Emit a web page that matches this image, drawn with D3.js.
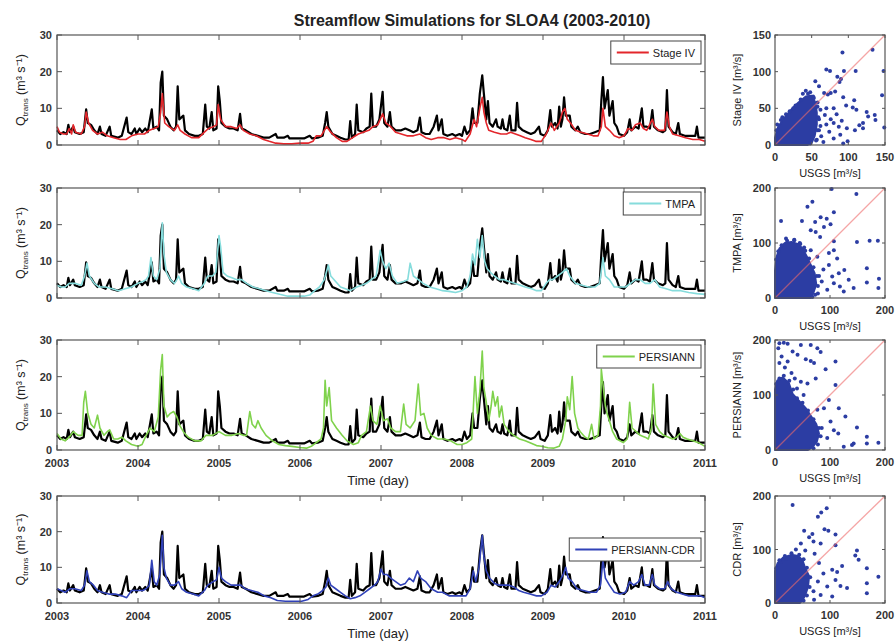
<!DOCTYPE html>
<html>
<head>
<meta charset="utf-8">
<script src="https://cdn.jsdelivr.net/npm/d3@7"></script>
<style>
body { margin: 0; background: #fff; }
svg { font-family: "Liberation Sans", Arial, sans-serif; }
</style>
</head>
<body>
<div class="container"></div>
<script>
// ---- DATA ----------------------------------------------------------------
var years = [2003, 2004, 2005, 2006, 2007, 2008, 2009, 2010, 2011]
var qTicks = [0, 10, 20, 30]

// USGS observed streamflow [year, m3/s] (black line, every panel)
var usgsObs = [
[2003.00,4],[2003.04,3],[2003.08,3.5],[2003.12,3],[2003.14,5.5],[2003.16,3.5],[2003.20,5],[2003.22,3.5],
[2003.28,3],[2003.33,3.5],[2003.36,9.7],[2003.38,6],[2003.42,5.5],[2003.46,4],[2003.50,3],[2003.53,5],
[2003.55,3],[2003.60,2.5],[2003.65,5],[2003.67,2.5],[2003.75,2],[2003.80,2.5],[2003.86,7.5],[2003.88,3.5],
[2003.92,3],[2003.96,4.5],[2003.98,3],[2004.02,4.5],[2004.05,3.5],[2004.09,4.5],[2004.12,3.5],[2004.17,9.7],
[2004.19,4.5],[2004.23,5],[2004.26,4],[2004.28,17],[2004.30,20],[2004.32,8],[2004.36,7],[2004.40,5],
[2004.44,4],[2004.47,5],[2004.49,16],[2004.51,7],[2004.56,8],[2004.58,4],[2004.63,3],[2004.70,2.5],
[2004.75,2.5],[2004.80,3],[2004.83,11],[2004.85,5],[2004.88,4.5],[2004.91,9],[2004.93,4],[2004.97,4.5],
[2004.99,16],[2005.01,12],[2005.03,6],[2005.08,5],[2005.13,4.5],[2005.18,4.5],[2005.23,4],[2005.26,8.5],
[2005.28,4.5],[2005.33,4],[2005.40,3],[2005.48,2.5],[2005.55,2],[2005.62,2],[2005.70,3],[2005.72,2],
[2005.80,2],[2005.85,2.5],[2005.87,1.8],[2005.95,1.8],[2006.05,1.8],[2006.12,2.5],[2006.15,1.8],[2006.22,2],
[2006.28,2.5],[2006.31,6],[2006.33,9],[2006.35,5],[2006.40,3],[2006.45,2.5],[2006.50,2],[2006.56,1.5],
[2006.60,1.5],[2006.62,6.5],[2006.64,2],[2006.68,3],[2006.70,11],[2006.72,4],[2006.78,3.5],[2006.82,4.5],
[2006.86,5],[2006.88,14],[2006.90,5],[2006.94,5],[2006.98,7],[2007.02,14.5],[2007.04,6],[2007.08,5],
[2007.11,9],[2007.13,5],[2007.18,4],[2007.25,4],[2007.30,4.5],[2007.35,4],[2007.40,3.5],[2007.45,4],
[2007.48,7.5],[2007.50,3.5],[2007.55,3],[2007.60,3],[2007.65,5],[2007.69,8],[2007.71,4],[2007.75,7],
[2007.77,3],[2007.82,2.5],[2007.88,3],[2007.92,2.5],[2007.97,3],[2008.00,2.5],[2008.03,5],[2008.06,3],
[2008.10,4],[2008.13,10],[2008.15,6],[2008.19,6],[2008.22,14],[2008.25,19],[2008.27,14],[2008.30,7],
[2008.32,12],[2008.34,6],[2008.38,5],[2008.42,7],[2008.44,5],[2008.48,4.5],[2008.50,7],[2008.52,4.5],
[2008.56,4],[2008.59,8],[2008.61,4],[2008.66,4],[2008.68,11.5],[2008.70,5],[2008.75,4],[2008.80,3.5],
[2008.85,3],[2008.90,3.5],[2008.95,5],[2008.97,3],[2009.02,2.5],[2009.06,4],[2009.09,9.5],[2009.11,5],
[2009.15,6],[2009.18,4.5],[2009.20,10.5],[2009.22,5],[2009.24,7],[2009.26,13],[2009.28,8],[2009.33,8],
[2009.35,5],[2009.40,4],[2009.43,5],[2009.46,3.5],[2009.52,3],[2009.58,3],[2009.64,3.5],[2009.70,4],
[2009.72,12],[2009.74,18.5],[2009.76,10],[2009.80,15],[2009.82,8],[2009.86,12],[2009.88,6],[2009.91,5],
[2009.94,3],[2010.00,2.5],[2010.04,3.5],[2010.07,7],[2010.09,4],[2010.14,5],[2010.18,4.5],[2010.22,10],
[2010.24,5],[2010.28,5],[2010.32,4.5],[2010.35,9.5],[2010.37,5],[2010.42,4],[2010.48,3.5],[2010.51,4],
[2010.53,15],[2010.55,5],[2010.60,3.5],[2010.64,3],[2010.67,6],[2010.69,3],[2010.75,2.5],[2010.82,2.5],
[2010.88,2.5],[2010.90,5],[2010.92,2],[2011.00,2]
]

var stage4Sim = [
[2003.00,5],[2003.03,3.5],[2003.08,3],[2003.12,3],[2003.15,4.5],[2003.18,3],[2003.20,5.5],[2003.23,3.5],
[2003.30,3],[2003.34,5],[2003.36,9],[2003.39,6],[2003.44,4],[2003.50,3],[2003.56,3.5],[2003.62,2.5],
[2003.70,2],[2003.78,1.5],[2003.85,1.5],[2003.92,2.5],[2004.00,3],[2004.08,3],[2004.14,4],[2004.20,4.5],
[2004.25,5],[2004.28,9],[2004.30,14],[2004.33,6],[2004.38,5],[2004.45,4],[2004.49,5.5],[2004.52,4],
[2004.58,3],[2004.66,2],[2004.75,2],[2004.82,3.5],[2004.87,4.5],[2004.93,5],[2004.97,5.5],[2004.99,11],
[2005.02,7],[2005.08,5],[2005.15,5],[2005.22,4.5],[2005.26,5.5],[2005.30,4],[2005.38,3],[2005.46,2.5],
[2005.55,1.5],[2005.62,1],[2005.70,0.5],[2005.80,0.3],[2005.90,0.3],[2006.00,0.5],[2006.10,0.5],[2006.16,1],
[2006.20,2.5],[2006.26,2.5],[2006.33,5],[2006.38,3.5],[2006.45,2],[2006.52,1],[2006.58,1],[2006.65,2],
[2006.72,3],[2006.78,3.5],[2006.85,4],[2006.90,5],[2006.96,5.5],[2007.02,8.5],[2007.06,6],[2007.12,5],
[2007.18,3.5],[2007.25,3],[2007.32,2.5],[2007.40,2.5],[2007.48,3],[2007.55,2],[2007.62,1.5],[2007.70,2],
[2007.78,2],[2007.85,1.5],[2007.92,2],[2008.00,1.5],[2008.04,1],[2008.10,3],[2008.15,7],[2008.18,5],
[2008.22,10],[2008.25,13],[2008.27,9],[2008.30,6],[2008.33,4],[2008.40,3.5],[2008.48,3],[2008.55,3],
[2008.60,3.5],[2008.66,3],[2008.72,2.5],[2008.78,2],[2008.85,1.5],[2008.91,1],[2008.98,1],[2009.04,3],
[2009.10,6],[2009.14,4],[2009.20,6],[2009.24,9],[2009.27,10],[2009.30,7],[2009.34,6],[2009.40,4],
[2009.47,3.5],[2009.55,3],[2009.62,2.5],[2009.68,2.5],[2009.72,5],[2009.74,10],[2009.77,5],[2009.82,4],
[2009.88,2.5],[2009.94,2],[2010.00,2.5],[2010.05,4.5],[2010.10,4],[2010.14,5.5],[2010.20,6],[2010.24,4.5],
[2010.28,4],[2010.35,7],[2010.38,5],[2010.43,4],[2010.50,4],[2010.53,9],[2010.56,5],[2010.60,3],
[2010.68,2.5],[2010.76,2],[2010.85,1.5],[2010.93,1.5],[2011.00,1]
]

var tmpaSim = [
[2003.00,3.5],[2003.05,3],[2003.10,3],[2003.15,4],[2003.22,4],[2003.30,3.5],[2003.34,6],[2003.37,9.5],
[2003.40,6],[2003.46,4],[2003.52,3],[2003.60,3],[2003.68,2.5],[2003.76,2],[2003.84,2.5],[2003.92,3],
[2004.00,4],[2004.06,4.5],[2004.10,5],[2004.13,6],[2004.16,11],[2004.19,6],[2004.23,5],[2004.27,8],
[2004.30,20.5],[2004.32,12],[2004.35,7],[2004.40,5],[2004.45,4],[2004.48,5],[2004.50,6],[2004.54,4],
[2004.60,3],[2004.68,2.5],[2004.75,2],[2004.82,4],[2004.86,6],[2004.92,6],[2004.96,7],[2005.00,17],
[2005.02,14],[2005.05,7],[2005.10,6],[2005.16,5.5],[2005.22,5],[2005.28,5],[2005.34,4],[2005.42,3],
[2005.50,2.5],[2005.58,2],[2005.66,1.5],[2005.75,1],[2005.85,0.5],[2005.95,0.5],[2006.05,0.5],[2006.12,0.8],
[2006.18,2],[2006.24,3],[2006.30,5],[2006.35,9],[2006.38,6],[2006.44,4.5],[2006.50,3],[2006.56,2.5],
[2006.62,2],[2006.70,3],[2006.76,3.5],[2006.82,4],[2006.88,5],[2006.94,6],[2006.99,13],[2007.02,10],
[2007.06,8],[2007.10,9.5],[2007.14,6],[2007.20,4],[2007.28,4.5],[2007.33,5],[2007.36,9.5],[2007.40,6],
[2007.46,5],[2007.52,4],[2007.60,3],[2007.68,2.5],[2007.76,2],[2007.84,1.8],[2007.92,1.5],[2008.00,2],
[2008.06,3],[2008.10,6],[2008.13,12],[2008.16,9],[2008.19,16],[2008.22,11],[2008.25,17],[2008.28,10],
[2008.31,8],[2008.35,7],[2008.40,6],[2008.46,5],[2008.52,5],[2008.58,4.5],[2008.65,4],[2008.72,3.5],
[2008.78,3],[2008.86,2.5],[2008.92,2],[2008.98,2],[2009.04,4],[2009.08,5],[2009.12,5],[2009.18,6],
[2009.24,7],[2009.29,8],[2009.33,6],[2009.40,4],[2009.48,3.5],[2009.56,3],[2009.64,3],[2009.70,4],
[2009.74,11],[2009.77,6],[2009.82,5],[2009.88,3],[2009.95,3],[2010.02,3],[2010.08,4],[2010.14,5],
[2010.20,5],[2010.26,4],[2010.32,4],[2010.38,5],[2010.44,3],[2010.52,2.5],[2010.60,2],[2010.70,2],
[2010.80,1.5],[2010.90,1.2],[2011.00,1]
]

var persiannSim = [
[2003.00,4.5],[2003.05,3],[2003.10,2.5],[2003.15,3.5],[2003.20,5],[2003.26,4],[2003.31,4],[2003.33,13],
[2003.35,16],[2003.38,10],[2003.42,7],[2003.46,6],[2003.50,9.5],[2003.53,6],[2003.58,4],[2003.62,5],
[2003.65,5.5],[2003.70,3],[2003.75,3],[2003.80,3.5],[2003.85,2.5],[2003.92,1.5],[2004.00,1],[2004.05,1.5],
[2004.10,4],[2004.15,6],[2004.20,5],[2004.25,9],[2004.28,22],[2004.30,26],[2004.32,12],[2004.36,9],
[2004.40,10],[2004.44,10.5],[2004.48,9],[2004.52,6.5],[2004.56,5],[2004.62,3.5],[2004.70,2.5],[2004.78,2.5],
[2004.84,4],[2004.92,4],[2005.00,5],[2005.08,4],[2005.16,4],[2005.24,4.5],[2005.30,4],[2005.34,4],
[2005.38,10.5],[2005.41,7],[2005.45,6],[2005.48,8],[2005.52,6],[2005.58,4],[2005.66,2.5],[2005.74,1.5],
[2005.82,1.2],[2005.90,1],[2006.00,0.7],[2006.08,0.5],[2006.14,1],[2006.20,2],[2006.26,3],[2006.29,6],
[2006.31,19],[2006.33,12],[2006.36,17],[2006.39,8],[2006.45,6],[2006.52,4],[2006.58,2.5],[2006.66,1.5],
[2006.72,2],[2006.76,4],[2006.82,5],[2006.87,12],[2006.90,8],[2006.95,7],[2006.99,12],[2007.03,8],
[2007.08,8.5],[2007.12,6],[2007.18,5],[2007.24,5],[2007.28,12.5],[2007.31,7],[2007.36,6],[2007.42,8],
[2007.46,18],[2007.49,9.5],[2007.53,10],[2007.57,6],[2007.62,4],[2007.70,3],[2007.78,3],[2007.86,2.5],
[2007.94,1.5],[2008.00,1.5],[2008.06,2],[2008.12,3],[2008.16,20],[2008.19,10],[2008.22,16],[2008.25,27],
[2008.27,17],[2008.30,13],[2008.33,8],[2008.36,12],[2008.38,16],[2008.41,12],[2008.44,14.5],[2008.46,9],
[2008.49,12],[2008.52,7],[2008.58,5],[2008.64,4],[2008.71,3],[2008.78,2.5],[2008.84,2],[2008.92,1.2],
[2008.98,1],[2009.06,0.6],[2009.13,0.5],[2009.20,1],[2009.24,3],[2009.28,8],[2009.30,14.5],[2009.33,11],
[2009.36,20],[2009.39,10],[2009.43,6],[2009.46,5],[2009.52,3.5],[2009.56,3],[2009.60,7],[2009.63,3],
[2009.68,4],[2009.71,12],[2009.72,22],[2009.74,18],[2009.77,12],[2009.79,10],[2009.82,8],[2009.86,5],
[2009.91,3],[2009.99,2],[2010.04,3],[2010.07,13],[2010.10,6],[2010.15,5],[2010.20,4],[2010.26,3.5],
[2010.30,3],[2010.34,6],[2010.36,18],[2010.39,7],[2010.44,5],[2010.49,4],[2010.55,3.5],[2010.60,3],
[2010.65,3.5],[2010.69,4.5],[2010.73,3.5],[2010.78,3],[2010.85,2.5],[2010.92,2],[2011.00,1]
]

var cdrSim = [
[2003.00,4],[2003.05,3.5],[2003.10,3],[2003.16,4],[2003.22,4],[2003.30,3.5],[2003.34,5],[2003.37,9],
[2003.40,6],[2003.45,5],[2003.50,3.5],[2003.56,3],[2003.64,2.5],[2003.72,2.5],[2003.80,2],[2003.86,1.5],
[2003.92,3.5],[2004.00,3.5],[2004.06,3.5],[2004.10,4],[2004.14,5],[2004.17,12],[2004.20,6],[2004.23,5],
[2004.27,8],[2004.30,19],[2004.32,10],[2004.35,7],[2004.40,5],[2004.45,5],[2004.50,6],[2004.54,4],
[2004.60,3],[2004.68,2.5],[2004.75,2],[2004.82,3.5],[2004.86,5],[2004.93,6],[2004.97,6.5],[2005.00,10],
[2005.03,7],[2005.08,6],[2005.15,5],[2005.22,5],[2005.27,5],[2005.32,4],[2005.40,3.5],[2005.48,3],
[2005.56,2],[2005.64,1.5],[2005.72,0.7],[2005.82,0.5],[2005.92,0.5],[2006.02,0.5],[2006.10,1],[2006.16,2],
[2006.22,2.5],[2006.28,3.5],[2006.32,4.5],[2006.35,7],[2006.38,5],[2006.44,4],[2006.50,3],[2006.56,2],
[2006.62,1.2],[2006.68,1.5],[2006.74,2],[2006.80,3],[2006.86,4],[2006.92,5],[2006.96,6],[2007.00,9.5],
[2007.03,8],[2007.07,8],[2007.12,7],[2007.18,6],[2007.24,5],[2007.30,5.5],[2007.35,7],[2007.40,6],
[2007.45,9],[2007.49,7],[2007.55,6],[2007.62,4],[2007.70,3],[2007.76,3],[2007.84,2],[2007.92,2],
[2008.00,2],[2008.05,2],[2008.10,4],[2008.14,9],[2008.17,6],[2008.21,10],[2008.25,19],[2008.27,13],
[2008.30,9],[2008.34,7],[2008.40,5.5],[2008.46,5],[2008.52,5],[2008.58,5],[2008.64,4.5],[2008.70,3.5],
[2008.76,3],[2008.84,2.5],[2008.92,2],[2008.98,2],[2009.05,3],[2009.10,5],[2009.15,4.5],[2009.20,6],
[2009.25,8],[2009.28,10],[2009.31,7],[2009.36,6],[2009.42,4],[2009.50,3.5],[2009.58,3],[2009.66,3],
[2009.71,5],[2009.74,12],[2009.77,7],[2009.82,5],[2009.88,3],[2009.95,2.5],[2010.02,3],[2010.07,6],
[2010.12,5],[2010.18,6],[2010.22,8],[2010.26,5],[2010.31,5],[2010.35,8],[2010.38,5],[2010.44,4],
[2010.50,4],[2010.54,6],[2010.58,4],[2010.65,3],[2010.72,2.5],[2010.80,2],[2010.88,2],[2010.94,2],
[2011.00,1.5]
]

// scatter: [USGS, simulated] in m3/s, points outside / on the rim of the dense core
var stage4Pts = [[92,126],[133,130],[70,103],[75,101],[94,101],[110,101],[148,101],[85,93],[90,90],[88,86],
[55,87],[60,80],[67,71],[72,69],[76,71],[82,73],[93,65],[146,68],[108,61],[106,51],[111,48],[97,54],[125,45],
[127,39],[136,41],[137,34],[149,24],[120,30],[115,27],[80,50],[84,42],[70,50],[68,41],[76,35],[80,30],[87,25],
[91,33],[98,23],[62,26],[60,20],[74,18],[80,9],[51,11],[57,7],[89,14],[109,20],[120,23],[99,5],[93,2],
[48,72],[52,66],[58,58],[62,48],[60,35],[63,12],[66,4],[70,28],[42,74],[38,70],
[3,28],[8,34],[15,42],[20,46],[28,54],[35,62],[45,70],[53,64],[58,52],[59,38],[58,20],[56,6],[48,2],[25,50],[10,38],[2,20]]
// dense core outline of the same cloud
var stage4Core = [[0,0],[0,10],[4,24],[12,36],[22,48],[32,58],[42,66],[50,67],[55,58],[57,44],[57,28],[54,12],[50,3],[44,0]]

var tmpaPts = [[103,198],[148,189],[59,166],[68,175],[11,140],[49,140],[73,138],[107,156],[83,147],[94,144],
[101,134],[89,129],[74,120],[82,111],[65,123],[149,102],[172,104],[187,104],[107,103],[98,82],[107,87],[113,72],
[126,51],[116,45],[104,39],[134,33],[143,18],[167,54],[167,28],[189,35],[188,18],[98,60],[88,52],[107,27],
[95,15],[118,21],[125,12],[77,75],[65,87],[53,92],[20,108],[35,106],[45,100],[80,40],[85,30],[78,8],
[2,70],[6,85],[12,96],[22,104],[35,105],[46,98],[55,86],[62,72],[70,56],[76,40],[78,22],[73,6],[68,2]]
var tmpaCore = [[0,0],[0,50],[3,75],[8,90],[18,100],[30,102],[42,98],[50,90],[58,75],[65,60],[72,45],[75,25],[70,10],[65,0]]

var persiannPts = [[8,194],[16,195],[23,193],[47,191],[65,191],[77,185],[83,178],[6,185],[32,179],[41,173],
[56,165],[65,162],[71,158],[110,161],[92,147],[8,158],[23,161],[74,130],[47,124],[59,121],[110,118],[98,91],
[116,76],[128,61],[149,41],[167,24],[188,13],[167,12],[140,9],[125,6],[143,12],[107,36],[101,52],[89,76],
[77,73],[12,170],[18,150],[30,140],[36,130],[40,112],[52,100],[95,22],[85,40],[115,30],
[2,120],[8,130],[16,135],[26,126],[33,110],[40,94],[50,86],[60,72],[70,56],[80,40],[83,25],[78,10],[70,3]]
var persiannCore = [[0,0],[0,110],[4,126],[14,132],[25,122],[32,102],[45,88],[55,77],[65,62],[75,47],[80,30],[76,15],[68,5],[60,0]]

var cdrPts = [[32,183],[94,177],[84,169],[78,161],[53,135],[90,138],[97,135],[68,129],[62,123],[70,115],
[83,111],[47,111],[110,128],[110,108],[149,98],[146,89],[152,81],[122,69],[104,62],[113,58],[167,65],[188,49],
[167,37],[167,18],[131,28],[119,32],[110,43],[95,31],[83,15],[104,12],[71,6],[10,77],[20,83],[38,100],[55,98],
[72,92],[80,75],[88,55],[78,40],[70,22],
[2,65],[8,80],[18,88],[30,93],[44,90],[52,82],[58,66],[64,48],[63,30],[58,14],[52,4]]
var cdrCore = [[0,0],[0,60],[5,75],[15,85],[30,90],[42,88],[50,80],[55,65],[62,50],[60,30],[55,15],[50,5],[45,0]]

var seriesNames = ['Stage IV', 'TMPA', 'PERSIANN', 'PERSIANN-CDR']
var scatterNames = ['Stage IV', 'TMPA', 'PERSIANN', 'CDR']
// ---------------------------------------------------------------------------

var w = 896, h = 643
var svg = d3.select('.container').append('svg')
    .attr('width', w).attr('height', h)

svg.append('rect').attr('width', w).attr('height', h).style('fill', '#fff')

// layout of the four rows
var rows = [
    {sim: stage4Sim, pts: stage4Pts, core: stage4Core, color: '#e3262b', top: 35, bottom: 145, legTop: 41, xlab: false, smax: 150, sticks: [0, 50, 100, 150]},
    {sim: tmpaSim, pts: tmpaPts, core: tmpaCore, color: '#86dcdc', top: 188, bottom: 298, legTop: 192, xlab: false, smax: 200, sticks: [0, 100, 200]},
    {sim: persiannSim, pts: persiannPts, core: persiannCore, color: '#7fd24c', top: 340, bottom: 450, legTop: 345, xlab: true, smax: 200, sticks: [0, 100, 200]},
    {sim: cdrSim, pts: cdrPts, core: cdrCore, color: '#3142b8', top: 496, bottom: 603, legTop: 538, xlab: true, smax: 200, sticks: [0, 100, 200]}
]

var left = 57, right = 705
var sLeft = 775, sRight = 885
var axisCol = '#555'
var tickFont = '11px'

var x = d3.scaleLinear().domain([2003, 2011]).range([left, right])

svg.append('text')
    .attr('x', 472).attr('y', 26)
    .attr('text-anchor', 'middle')
    .style('font-size', '16px').style('font-weight', 'bold').style('fill', '#222')
    .text('Streamflow Simulations for SLOA4 (2003-2010)')

rows.forEach(function (r, i) {
    var y = d3.scaleLinear().domain([0, 30]).range([r.bottom, r.top])
    var g = svg.append('g')

    var line = d3.line().x(d => x(d[0])).y(d => y(d[1]))

    g.append('path').datum(usgsObs)
        .attr('d', line)
        .style('fill', 'none').style('stroke', '#000').style('stroke-width', 2.2)
        .style('stroke-linejoin', 'round')

    g.append('path').datum(r.sim)
        .attr('d', line)
        .style('fill', 'none').style('stroke', r.color).style('stroke-width', 1.6)
        .style('stroke-linejoin', 'round')

    // box + inward ticks
    g.append('rect')
        .attr('x', left).attr('y', r.top)
        .attr('width', right - left).attr('height', r.bottom - r.top)
        .style('fill', 'none').style('stroke', axisCol).style('stroke-width', 1.2)

    years.forEach(function (yr) {
        g.append('line').attr('x1', x(yr)).attr('x2', x(yr)).attr('y1', r.bottom).attr('y2', r.bottom - 5)
            .style('stroke', axisCol)
        g.append('line').attr('x1', x(yr)).attr('x2', x(yr)).attr('y1', r.top).attr('y2', r.top + 5)
            .style('stroke', axisCol)
        if (r.xlab) {
            g.append('text').attr('x', x(yr)).attr('y', r.bottom + 17)
                .attr('text-anchor', 'middle')
                .style('font-size', tickFont).style('font-weight', 'bold').style('fill', '#333')
                .text(yr)
        }
    })
    qTicks.forEach(function (q) {
        g.append('line').attr('x1', left).attr('x2', left + 5).attr('y1', y(q)).attr('y2', y(q))
            .style('stroke', axisCol)
        g.append('line').attr('x1', right).attr('x2', right - 5).attr('y1', y(q)).attr('y2', y(q))
            .style('stroke', axisCol)
        g.append('text').attr('x', left - 5).attr('y', y(q) + 4)
            .attr('text-anchor', 'end')
            .style('font-size', tickFont).style('font-weight', 'bold').style('fill', '#333')
            .text(q)
    })

    if (r.xlab) {
        g.append('text').attr('x', 378).attr('y', r.bottom + 35)
            .attr('text-anchor', 'middle')
            .style('font-size', '13px').style('fill', '#222')
            .text('Time (day)')
    }

    // y label  Q_trans (m3 s-1)
    var yl = g.append('text')
        .attr('transform', 'translate(25,' + ((r.top + r.bottom) / 2) + ') rotate(-90)')
        .attr('text-anchor', 'middle')
        .style('font-size', '12.5px').style('fill', '#222')
    yl.append('tspan').text('Q')
    yl.append('tspan').attr('dy', 3).style('font-size', '8px').text('trans')
    yl.append('tspan').attr('dy', -3).text(' (m³ s⁻¹)')

    // legend
    var leg = g.append('g')
    var lt = leg.append('text')
        .attr('x', 695).attr('y', r.legTop + 16)
        .attr('text-anchor', 'end')
        .style('font-size', '11px').style('fill', '#222')
        .text(seriesNames[i])
    var tw = lt.node().getComputedTextLength()
    var lx0 = 695 - tw - 42
    leg.insert('rect', 'text')
        .attr('x', lx0).attr('y', r.legTop)
        .attr('width', 701 - lx0).attr('height', 23)
        .style('fill', '#fff').style('stroke', '#444').style('stroke-width', 1)
    leg.append('line')
        .attr('x1', lx0 + 6).attr('x2', lx0 + 38)
        .attr('y1', r.legTop + 11.5).attr('y2', r.legTop + 11.5)
        .style('stroke', r.color).style('stroke-width', 2)

    // scatter panel
    var sx = d3.scaleLinear().domain([0, r.smax]).range([sLeft, sRight])
    var sy = d3.scaleLinear().domain([0, r.smax]).range([r.bottom, r.top])
    var sg = svg.append('g')
    var dotCol = '#2c3da3'

    sg.append('path').datum(r.core)
        .attr('d', d3.line().x(d => sx(d[0])).y(d => sy(d[1])).curve(d3.curveLinearClosed))
        .style('fill', dotCol).style('stroke', dotCol).style('stroke-width', 2)
        .style('stroke-linejoin', 'round')

    sg.selectAll('circle').data(r.pts).enter().append('circle')
        .attr('cx', d => sx(d[0])).attr('cy', d => sy(d[1]))
        .attr('r', 2)
        .style('fill', dotCol)

    sg.append('line')
        .attr('x1', sx(0)).attr('y1', sy(0)).attr('x2', sx(r.smax)).attr('y2', sy(r.smax))
        .style('stroke', '#f06a6a').style('stroke-width', 1.3).style('opacity', 0.6)

    sg.append('rect')
        .attr('x', sLeft).attr('y', r.top)
        .attr('width', sRight - sLeft).attr('height', r.bottom - r.top)
        .style('fill', 'none').style('stroke', axisCol).style('stroke-width', 1.2)

    r.sticks.forEach(function (t) {
        sg.append('line').attr('x1', sx(t)).attr('x2', sx(t)).attr('y1', r.bottom).attr('y2', r.bottom - 3)
            .style('stroke', axisCol)
        sg.append('line').attr('x1', sx(t)).attr('x2', sx(t)).attr('y1', r.top).attr('y2', r.top + 3)
            .style('stroke', axisCol)
        sg.append('line').attr('x1', sLeft).attr('x2', sLeft + 3).attr('y1', sy(t)).attr('y2', sy(t))
            .style('stroke', axisCol)
        sg.append('line').attr('x1', sRight).attr('x2', sRight - 3).attr('y1', sy(t)).attr('y2', sy(t))
            .style('stroke', axisCol)
        sg.append('text').attr('x', sx(t)).attr('y', r.bottom + 16)
            .attr('text-anchor', 'middle')
            .style('font-size', tickFont).style('font-weight', 'bold').style('fill', '#333')
            .text(t)
        sg.append('text').attr('x', sLeft - 4).attr('y', sy(t) + 4)
            .attr('text-anchor', 'end')
            .style('font-size', tickFont).style('font-weight', 'bold').style('fill', '#333')
            .text(t)
    })

    sg.append('text').attr('x', (sLeft + sRight) / 2).attr('y', r.bottom + 32)
        .attr('text-anchor', 'middle')
        .style('font-size', '11px').style('fill', '#222')
        .text('USGS [m³/s]')

    sg.append('text')
        .attr('transform', 'translate(741,' + ((r.top + r.bottom) / 2) + ') rotate(-90)')
        .attr('text-anchor', 'middle')
        .style('font-size', '11px').style('fill', '#222')
        .text(scatterNames[i] + ' [m³/s]')
})
</script>
</body>
</html>
